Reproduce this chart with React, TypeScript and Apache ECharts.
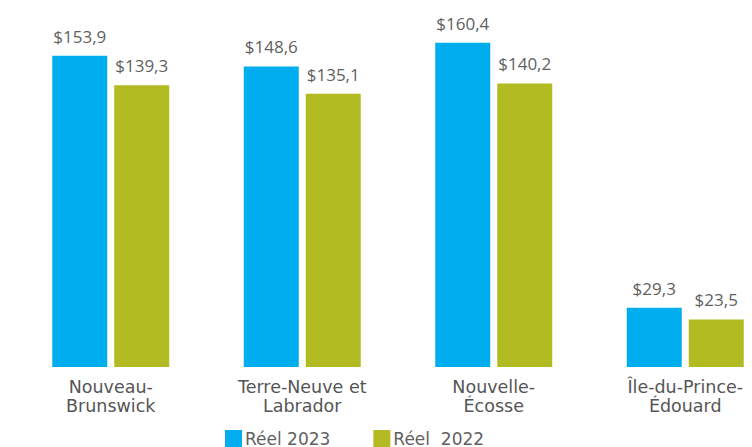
import React, { useEffect, useRef } from "react";
import * as echarts from "echarts";

const categories = ["Nouveau-\nBrunswick", "Terre-Neuve et\nLabrador", "Nouvelle-\nÉcosse", "Île-du-Prince-\nÉdouard"];
const reel2023 = [153.9, 148.6, 160.4, 29.3];
const reel2022 = [139.3, 135.1, 140.2, 23.5];
const seriesNames = ["Réel 2023", "Réel  2022"];

const FONT = "'Open Sans', sans-serif";
const WIDE = "'DejaVu Sans', sans-serif";

export default function App() {
  const ref = useRef<HTMLDivElement>(null);
  useEffect(() => {
    document.body.style.margin = "0";
    const chart = echarts.init(ref.current!, undefined, { renderer: "svg" });
    const fmt = (p: any) => "$" + p.value.toFixed(1).replace(".", ",");
    const label = {
      show: true,
      position: "top",
      distance: 11,
      formatter: fmt,
      color: "#5f5f5f",
      fontSize: 17,
      fontFamily: FONT,
    };
    chart.setOption({
      animation: false,
      grid: { left: 15, right: 0, top: 3, height: 364 },
      legend: {
        left: 220,
        top: 425,
        itemWidth: 17,
        itemHeight: 17,
        itemGap: 43,
        icon: "rect",
        textStyle: { color: "#5f5f5f", fontSize: 17, lineHeight: 17, fontFamily: WIDE, padding: [0, 0, 0, -2] },
        data: seriesNames,
      },
      xAxis: {
        type: "category",
        data: categories,
        axisLine: { show: false },
        axisTick: { show: false },
        axisLabel: {
          color: "#555",
          fontSize: 17.5,
          fontFamily: WIDE,
          lineHeight: 19,
          margin: 10,
          interval: 0,
        },
      },
      yAxis: { type: "value", min: 0, max: 180, show: false, splitLine: { show: false } },
      series: [
        {
          name: seriesNames[0],
          type: "bar",
          data: reel2023,
          barWidth: 55,
          barGap: "12.7%",
          itemStyle: { color: "#00AEEF" },
          label,
        },
        {
          name: seriesNames[1],
          type: "bar",
          data: reel2022,
          barWidth: 55,
          itemStyle: { color: "#B2BB22" },
          label,
        },
      ],
    });
    return () => chart.dispose();
  }, []);
  return (
    <div style={{ width: 752, height: 447, overflow: "hidden" }}>
      <div ref={ref} style={{ width: 781, height: 447 }} />
    </div>
  );
}
